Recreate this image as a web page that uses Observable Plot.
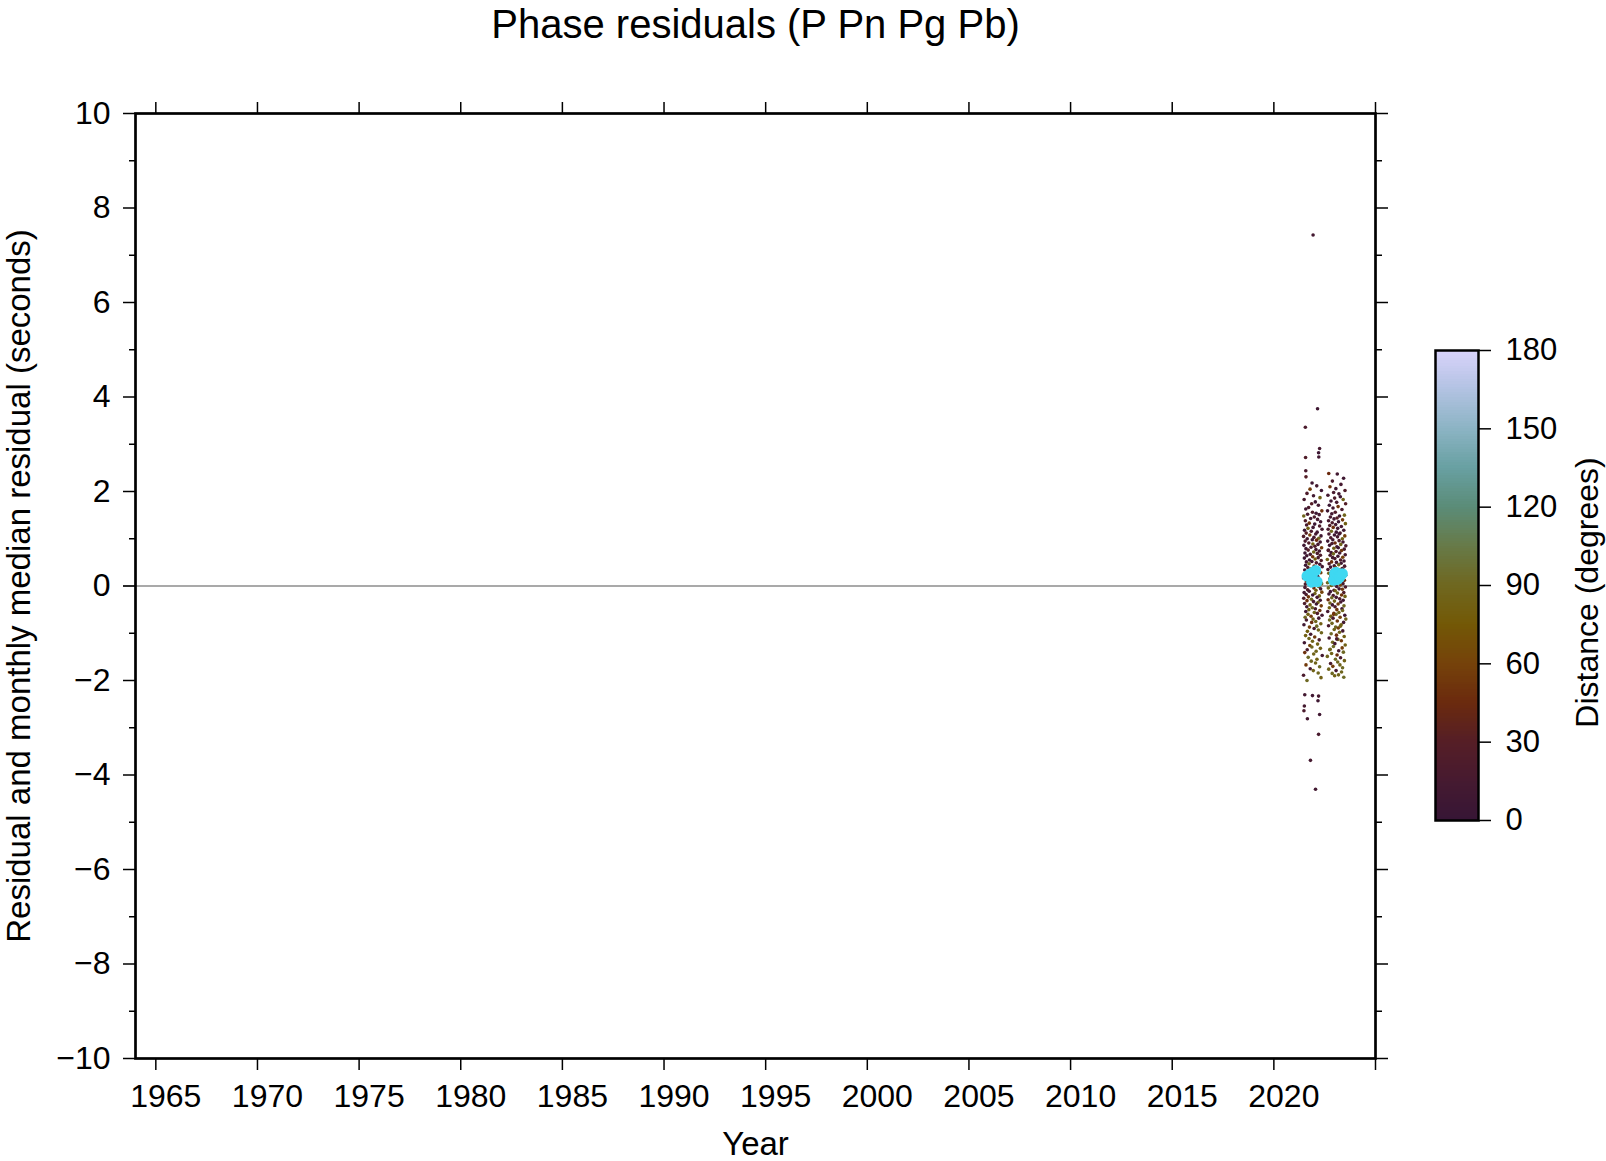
<!DOCTYPE html>
<html>
<head>
<meta charset="utf-8">
<script src="https://cdn.jsdelivr.net/npm/d3@7"></script>
<script src="https://cdn.jsdelivr.net/npm/@observablehq/plot@0.6"></script>
<style>
  html, body { margin: 0; padding: 0; background: white; overflow: hidden; }
  #wrap { position: relative; width: 1606px; height: 1161px; }
  #wrap svg { position: absolute; left: 0; top: 0; }
</style>
</head>
<body>
<div id="wrap"></div>
<script>
// ---------- data ----------
const years1 = [
  2021.93, 2022.15, 2021.55, 2022.25, 2022.20, 2021.56, 2022.21, 2021.57, 2021.58, 2021.88,
  2022.11, 2021.78, 2022.34, 2021.63, 2021.95, 2022.27, 2021.49, 2022.04, 2021.86, 2022.19,
  2021.71, 2021.57, 2022.36, 2021.90, 2022.08, 2021.66, 2022.23, 2021.47, 2021.99, 2021.81,
  2022.15, 2021.55, 2022.30, 2021.74, 2022.01, 2021.61, 2022.25, 2021.93, 2021.68, 2022.37,
  2021.51, 2021.84, 2022.13, 2021.59, 2022.06, 2021.77, 2022.32, 2021.46, 2021.97, 2022.21,
  2021.64, 2021.89, 2022.10, 2021.54, 2022.28, 2021.72, 2021.92, 2022.17, 2021.48, 2022.02,
  2021.83, 2022.35, 2021.58, 2022.07, 2021.69, 2022.24, 2021.96, 2021.53, 2022.14, 2021.79,
  2022.29, 2021.62, 2021.91, 2022.18, 2021.50, 2022.03, 2021.75, 2022.33, 2021.87, 2021.60,
  2022.09, 2021.73, 2022.26, 2021.56, 2021.98, 2022.38, 2021.67, 2022.12, 2021.82, 2021.52,
  2022.22, 2021.94, 2021.65, 2022.31, 2021.76, 2022.05, 2021.58, 2021.88, 2022.16, 2021.70,
  2021.46, 2022.00, 2021.85, 2022.27, 2021.61, 2022.12, 2021.79, 2022.35, 2021.55, 2021.92,
  2021.80, 2022.20, 2021.53, 2021.97, 2022.30, 2021.66, 2022.07, 2021.74, 2022.36, 2021.49,
  2022.02, 2021.59, 2021.91, 2022.24, 2021.70, 2022.13, 2021.47, 2021.85, 2022.28, 2021.63,
  2021.95, 2022.17, 2021.51, 2022.09, 2021.78, 2022.33, 2021.62, 2021.89, 2022.04, 2021.72,
  2022.26, 2021.57, 2021.99, 2022.14, 2021.68, 2022.37, 2021.83, 2021.54, 2022.21, 2021.93,
  2021.60, 2022.06, 2021.86, 2022.31, 2021.48, 2022.11, 2021.75, 2021.98, 2022.19, 2021.65,
  2022.34, 2021.81, 2021.56, 2022.01, 2021.73, 2022.23, 2021.90, 2021.50, 2022.15, 2021.77,
  2021.87, 2022.29, 2021.64, 2022.08, 2021.52, 2021.96, 2022.38, 2021.69, 2022.12, 2021.84,
  2022.05, 2021.58, 2022.25, 2021.79, 2021.94, 2022.18, 2021.46, 2022.32, 2021.63, 2021.52,
  2021.90, 2022.20, 2022.17, 2021.50, 2021.48, 2022.25, 2021.65, 2022.20, 2021.80, 2022.05
];
const residuals1 = [
  7.43, 3.75, 3.36, 2.91, 2.82, 2.72, 2.73, 2.44, 2.31, 2.18,
  2.12, 2.05, 2.02, 1.96, 1.91, 1.87, 1.83, 1.78, 1.74, 1.71,
  1.66, 1.63, 1.59, 1.56, 1.54, 1.52, 1.51, 1.48, 1.46, 1.43,
  1.41, 1.38, 1.36, 1.33, 1.31, 1.29, 1.27, 1.24, 1.22, 1.20,
  1.18, 1.16, 1.14, 1.12, 1.10, 1.08, 1.06, 1.05, 1.03, 1.01,
  1.00, 0.98, 0.97, 0.95, 0.93, 0.91, 0.89, 0.88, 0.86, 0.84,
  0.82, 0.81, 0.79, 0.77, 0.76, 0.74, 0.72, 0.70, 0.69, 0.67,
  0.65, 0.64, 0.62, 0.60, 0.59, 0.57, 0.55, 0.54, 0.52, 0.51,
  0.49, 0.47, 0.46, 0.44, 0.42, 0.41, 0.39, 0.37, 0.36, 0.34,
  0.32, 0.31, 0.29, 0.28, 0.26, 0.25, 0.23, 0.21, 0.20, 0.18,
  0.17, 0.15, 0.13, 0.12, 0.10, 0.09, 0.07, 0.05, 0.04, 0.02,
  0.01, -0.01, -0.03, -0.04, -0.06, -0.08, -0.09, -0.11, -0.13, -0.14,
  -0.16, -0.18, -0.19, -0.21, -0.23, -0.24, -0.26, -0.28, -0.30, -0.31,
  -0.33, -0.35, -0.37, -0.38, -0.40, -0.42, -0.44, -0.46, -0.48, -0.50,
  -0.52, -0.54, -0.56, -0.58, -0.60, -0.62, -0.64, -0.66, -0.68, -0.70,
  -0.72, -0.75, -0.77, -0.80, -0.82, -0.85, -0.87, -0.90, -0.93, -0.96,
  -0.99, -1.02, -1.05, -1.08, -1.11, -1.14, -1.17, -1.20, -1.23, -1.26,
  -1.29, -1.32, -1.35, -1.38, -1.41, -1.44, -1.47, -1.51, -1.55, -1.59,
  -1.63, -1.67, -1.71, -1.75, -1.79, -1.84, -1.89, -1.94, -2.00, -2.30,
  -2.32, -2.33, -2.43, -2.54, -2.64, -2.72, -2.81, -3.14, -3.69, -4.30
];
const distances1 = [
  12, 8, 20, 15, 6, 25, 10, 18, 30, 9,
  14, 55, 7, 22, 11, 85, 16, 5, 28, 13,
  19, 9, 48, 24, 6, 17, 12, 88, 21, 8,
  15, 27, 10, 52, 7, 18, 23, 11, 82, 14,
  6, 20, 9, 31, 13, 58, 8, 25, 16, 90,
  12, 7, 45, 19, 10, 26, 84, 14, 9, 22,
  17, 55, 8, 13, 29, 11, 86, 6, 21, 15,
  24, 10, 50, 18, 7, 80, 12, 27, 9, 16,
  20, 88, 13, 6, 47, 11, 25, 19, 83, 8,
  14, 30, 9, 57, 17, 7, 22, 87, 12, 10,
  26, 15, 82, 8, 53, 19, 11, 90, 23, 6,
  13, 85, 18, 46, 9, 27, 81, 14, 60, 11,
  88, 20, 7, 84, 52, 16, 24, 89, 10, 48,
  15, 86, 22, 9, 80, 57, 12, 91, 18, 83,
  50, 8, 87, 25, 82, 14, 55, 90, 11, 85,
  19, 88, 47, 84, 9, 92, 58, 16, 86, 81,
  89, 13, 83, 53, 90, 22, 87, 10, 85, 60,
  91, 84, 18, 88, 49, 86, 12, 93, 82, 90,
  87, 55, 92, 15, 85, 89, 20, 84, 91, 12,
  10, 16, 8, 14, 20, 9, 12, 18, 15, 11
];
const years2 = [
  2022.70, 2023.12, 2023.43, 2022.88, 2023.30, 2022.76, 2023.05, 2023.50, 2022.94, 2023.20,
  2022.66, 2023.27, 2022.99, 2023.41, 2022.81, 2023.09, 2023.53, 2022.73, 2023.16, 2022.91,
  2023.35, 2022.64, 2023.02, 2022.85, 2023.47, 2023.23, 2022.78, 2023.11, 2022.96, 2023.38,
  2022.69, 2023.18, 2022.87, 2023.52, 2023.04, 2022.75, 2023.32, 2022.92, 2023.14, 2022.67,
  2023.44, 2022.83, 2023.07, 2023.26, 2022.71, 2022.98, 2023.49, 2023.13, 2022.80, 2023.37,
  2022.90, 2023.21, 2022.65, 2023.40, 2023.01, 2022.86, 2023.29, 2022.74, 2023.54, 2023.10,
  2023.17, 2022.95, 2023.46, 2022.68, 2023.33, 2023.06, 2022.82, 2023.24, 2022.93, 2023.51,
  2022.77, 2023.15, 2023.39, 2022.89, 2023.00, 2022.63, 2023.28, 2023.45, 2022.84, 2023.08,
  2023.31, 2022.72, 2023.19, 2022.97, 2023.48, 2022.79, 2023.03, 2023.36, 2022.66, 2023.22,
  2022.87, 2023.42, 2023.11, 2022.70, 2023.25, 2022.94, 2023.53, 2022.81, 2023.14, 2023.34,
  2023.05, 2022.75, 2023.30, 2023.47, 2022.90, 2023.18, 2022.64, 2023.40, 2022.99, 2023.27,
  2022.83, 2023.09, 2023.52, 2022.68, 2023.21, 2023.37, 2022.96, 2023.02, 2022.78, 2023.44,
  2023.13, 2022.71, 2023.33, 2022.92, 2023.50, 2023.07, 2022.85, 2023.24, 2022.67, 2023.41,
  2022.98, 2023.29, 2022.76, 2023.16, 2022.88, 2023.45, 2023.01, 2022.73, 2023.35, 2023.10,
  2023.38, 2022.65, 2023.20, 2022.95, 2023.06, 2023.49, 2022.80, 2023.26, 2022.91, 2023.54,
  2022.74, 2023.12, 2023.43, 2022.86, 2023.31, 2022.69, 2023.04, 2023.17, 2022.97, 2023.39,
  2023.23, 2022.82, 2023.08, 2023.46, 2022.72, 2023.15, 2023.32, 2022.89, 2023.00, 2023.51,
  2022.93, 2023.36, 2022.77, 2023.19, 2023.42, 2022.84, 2023.11, 2022.63, 2023.28, 2023.03,
  2023.47, 2023.14, 2022.79, 2023.25, 2022.90, 2023.38, 2022.70, 2023.06, 2023.33, 2022.87,
  2023.18, 2022.99, 2023.44, 2022.75, 2023.09, 2023.27, 2022.94, 2023.40, 2022.68, 2023.21
];
const residuals2 = [
  2.38, 2.37, 2.28, 2.22, 2.15, 2.10, 2.06, 2.02, 1.98, 1.95,
  1.92, 1.89, 1.86, 1.83, 1.80, 1.77, 1.74, 1.71, 1.68, 1.65,
  1.62, 1.59, 1.56, 1.53, 1.50, 1.48, 1.46, 1.44, 1.42, 1.40,
  1.38, 1.36, 1.34, 1.32, 1.30, 1.28, 1.26, 1.24, 1.22, 1.20,
  1.18, 1.16, 1.14, 1.12, 1.10, 1.08, 1.06, 1.04, 1.02, 1.00,
  0.98, 0.96, 0.95, 0.93, 0.91, 0.90, 0.88, 0.86, 0.85, 0.83,
  0.81, 0.80, 0.78, 0.76, 0.75, 0.73, 0.71, 0.70, 0.68, 0.66,
  0.65, 0.63, 0.61, 0.60, 0.58, 0.56, 0.55, 0.53, 0.51, 0.50,
  0.48, 0.47, 0.45, 0.43, 0.42, 0.40, 0.39, 0.37, 0.35, 0.34,
  0.32, 0.31, 0.29, 0.27, 0.26, 0.24, 0.23, 0.21, 0.19, 0.18,
  0.16, 0.15, 0.13, 0.12, 0.10, 0.08, 0.07, 0.05, 0.04, 0.02,
  0.01, -0.01, -0.02, -0.04, -0.06, -0.07, -0.09, -0.10, -0.12, -0.14,
  -0.15, -0.17, -0.19, -0.20, -0.22, -0.24, -0.25, -0.27, -0.29, -0.30,
  -0.32, -0.34, -0.36, -0.38, -0.40, -0.42, -0.44, -0.46, -0.48, -0.50,
  -0.52, -0.54, -0.56, -0.58, -0.60, -0.62, -0.64, -0.66, -0.68, -0.70,
  -0.72, -0.74, -0.77, -0.79, -0.82, -0.84, -0.87, -0.89, -0.92, -0.95,
  -0.98, -1.01, -1.04, -1.07, -1.10, -1.13, -1.16, -1.19, -1.22, -1.25,
  -1.28, -1.31, -1.34, -1.37, -1.40, -1.43, -1.46, -1.49, -1.52, -1.55,
  -1.58, -1.61, -1.64, -1.67, -1.70, -1.73, -1.76, -1.79, -1.82, -1.85,
  -1.88, -1.90, -1.93, -1.35, -1.12, -0.85, -0.60, 0.35, 0.75, 1.10
];
const distances2 = [
  45, 12, 8, 20, 15, 50, 9, 25, 18, 11,
  14, 7, 22, 85, 10, 16, 28, 6, 52, 13,
  19, 9, 24, 12, 88, 8, 17, 30, 11, 55,
  15, 6, 21, 83, 10, 26, 13, 48, 8, 18,
  12, 90, 7, 23, 16, 9, 57, 14, 20, 84,
  11, 27, 8, 15, 46, 19, 86, 10, 22, 13,
  7, 82, 18, 12, 53, 25, 9, 16, 89, 14,
  21, 8, 60, 11, 17, 85, 24, 10, 49, 15,
  9, 28, 87, 13, 19, 7, 55, 22, 12, 81,
  16, 10, 26, 88, 14, 51, 8, 20, 84, 11,
  23, 86, 12, 47, 9, 18, 90, 15, 25, 58,
  82, 13, 20, 89, 10, 54, 16, 85, 7, 24,
  87, 11, 50, 19, 83, 14, 91, 22, 46, 9,
  85, 17, 88, 56, 12, 90, 21, 84, 10, 52,
  89, 15, 86, 48, 92, 8, 83, 59, 18, 87,
  90, 53, 12, 88, 84, 20, 91, 57, 85, 14,
  86, 92, 49, 83, 16, 89, 55, 90, 11, 84,
  93, 58, 87, 13, 91, 85, 47, 88, 19, 92,
  84, 90, 21, 86, 56, 92, 88, 15, 89, 91,
  87, 85, 93, 90, 18, 86, 52, 14, 22, 9
];
const medianYears = [
  2021.63, 2021.71, 2021.79, 2021.86, 2021.94, 2022.00, 2022.06, 2022.13,
  2022.93, 2022.99, 2023.06, 2023.13, 2023.19, 2023.25, 2023.31, 2023.37
];
const medianResiduals = [
  0.21, 0.23, 0.26, 0.08, 0.29, 0.10, 0.33, 0.09,
  0.12, 0.26, 0.29, 0.14, 0.21, 0.19, 0.24, 0.26
];
const xTickValues = [1965, 1970, 1975, 1980, 1985, 1990, 1995, 2000, 2005, 2010, 2015, 2020, 2025];
const xLabelValues = [1965, 1970, 1975, 1980, 1985, 1990, 1995, 2000, 2005, 2010, 2015, 2020];
const yMajorTicks = [-10, -8, -6, -4, -2, 0, 2, 4, 6, 8, 10];
const yMinorTicks = [-9, -7, -5, -3, -1, 1, 3, 5, 7, 9];
const distTicks = [0, 30, 60, 90, 120, 150, 180];
// colour ramp: stops every 15 degrees, 0 .. 180
const distColors = [
  "#361535", "#461a30", "#551e26", "#6b2a0e", "#75420a", "#735806", "#6f6720",
  "#677a48", "#5b8c78", "#68a0a2", "#8cb4c4", "#b2c2e2", "#d9d3fb"
];
const medianColor = "#3fd8f1";
const titleText = "Phase residuals (P Pn Pg Pb)";
const xLabel = "Year";
const yLabel = "Residual and monthly median residual (seconds)";
const cLabel = "Distance (degrees)";

// ---------- build ----------
const font = "'Liberation Sans', Arial, Helvetica, sans-serif";
const interp = d3.piecewise(d3.interpolateRgb, distColors);
const colorScale = {type: "linear", domain: [0, 180], interpolate: t => interp(Math.max(0, Math.min(1, t)))};

const points = [
  ...years1.map((y, i) => ({year: y, res: residuals1[i], dist: distances1[i]})),
  ...years2.map((y, i) => ({year: y, res: residuals2[i], dist: distances2[i]}))
];
const medians = medianYears.map((y, i) => ({year: y, res: medianResiduals[i]}));

const W = 1606, H = 1161;
const main = Plot.plot({
  width: W, height: H,
  marginLeft: 135, marginRight: 231, marginTop: 113, marginBottom: 103,
  style: {fontFamily: font, fontSize: "32px", color: "black", background: "white"},
  x: {domain: [1964, 2025], axis: null, label: null},
  y: {domain: [-10, 10], axis: null, label: null},
  color: colorScale,
  marks: [
    Plot.ruleY([0], {stroke: "#8c8c8c", strokeWidth: 1.6, insetLeft: -12, insetRight: -12}),
    Plot.dot(points, {x: "year", y: "res", fill: "dist", r: 1.8, stroke: null}),
    Plot.dot(medians, {x: "year", y: "res", fill: medianColor, r: 5.5, stroke: null}),
    Plot.axisX({anchor: "bottom", ticks: xTickValues, tickSize: 12, strokeWidth: 1.5, tickFormat: () => "", label: null}),
    Plot.text(xLabelValues, {x: d => d, frameAnchor: "bottom", dy: 38, dx: 10, lineAnchor: "middle",
      textAnchor: "middle", fontSize: 32, text: d => String(d)}),
    Plot.axisX({anchor: "top", ticks: xTickValues, tickSize: 12, strokeWidth: 1.5, tickFormat: () => "", label: null}),
    Plot.axisY({anchor: "left", ticks: yMajorTicks, tickSize: 12, tickPadding: 13, strokeWidth: 1.5,
      fontSize: 32, label: null}),
    Plot.axisY({anchor: "left", ticks: yMinorTicks, tickSize: 6, strokeWidth: 1.5, tickFormat: () => "", label: null}),
    Plot.axisY({anchor: "right", ticks: yMajorTicks, tickSize: 12, strokeWidth: 1.5, tickFormat: () => "", label: null}),
    Plot.axisY({anchor: "right", ticks: yMinorTicks, tickSize: 6, strokeWidth: 1.5, tickFormat: () => "", label: null}),
    Plot.frame({stroke: "black", strokeWidth: 2.7}),
    Plot.text([titleText], {frameAnchor: "top", dy: -88, lineAnchor: "middle", textAnchor: "middle", fontSize: 40, text: d => d}),
    Plot.text([xLabel], {frameAnchor: "bottom", dy: 86, lineAnchor: "middle", textAnchor: "middle", fontSize: 33, text: d => d}),
    Plot.text([yLabel], {frameAnchor: "left", dx: -116, rotate: -90, lineAnchor: "middle", textAnchor: "middle", fontSize: 33, text: d => d})
  ]
});

const barValues = d3.range(0, 180, 1);
const cbar = Plot.plot({
  width: W, height: H,
  marginLeft: 1435, marginRight: 128, marginTop: 350, marginBottom: 341,
  style: {fontFamily: font, fontSize: "32px", color: "black", background: "transparent"},
  x: {domain: [0, 1], axis: null, label: null},
  y: {domain: [0, 180], axis: null, label: null},
  color: colorScale,
  marks: [
    Plot.rect(barValues, {x1: d => 0, x2: d => 1, y1: d => d, y2: d => d + 1, fill: d => d + 0.5, shapeRendering: "crispEdges"}),
    Plot.frame({stroke: "black", strokeWidth: 2.5}),
    Plot.axisY({anchor: "right", ticks: distTicks, tickSize: 12, tickPadding: 15, strokeWidth: 1.5,
      fontSize: 31, tickFormat: d => String(d), label: null}),
    Plot.text([cLabel], {frameAnchor: "right", dx: 109, dy: 7, rotate: -90, lineAnchor: "middle", textAnchor: "middle", fontSize: 32, text: d => d})
  ]
});

const wrap = document.getElementById("wrap");
wrap.appendChild(main);
wrap.appendChild(cbar);
</script>
</body>
</html>
